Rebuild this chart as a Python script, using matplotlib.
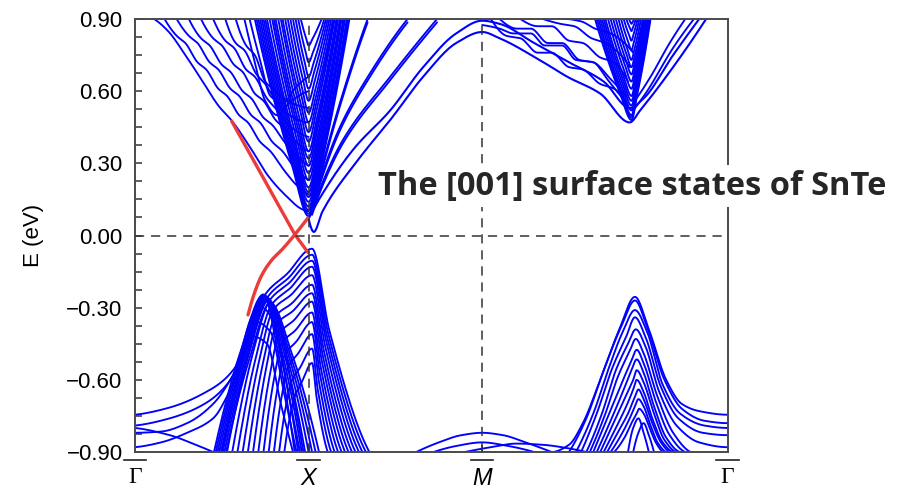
import numpy as np
import matplotlib
matplotlib.use("Agg")
import matplotlib.pyplot as plt
import matplotlib.transforms as mtransforms
from matplotlib.ticker import MultipleLocator, FixedLocator

# ---------------------------------------------------------------------------
# k-path: Gamma -> X -> M -> Gamma  (|GX| = |XM| = 1, |MG| = sqrt 2)
# ---------------------------------------------------------------------------
K_TICKS = [0.0, 1.0, 2.0, 2.0 + np.sqrt(2.0)]
K_LABELS = ["Γ", "X", "M", "Γ"]
E_MIN, E_MAX = -0.90, 0.90
E_TICKS = [0.90, 0.60, 0.30, 0.00, -0.30, -0.60, -0.90]

# --- surface states (red) ---------------------------------------------------
SS_A_K = [0.557, 0.921, 0.996]
SS_A_E = [0.475, 0.004, -0.070]
SS_B_K = [0.651, 0.69, 0.73, 0.79, 0.845, 0.921, 0.996]
SS_B_E = [-0.33, -0.235, -0.165, -0.10, -0.06, 0.004, 0.073]

# --- conduction bands along Gamma-X -----------------------------------------
GX_CB_K = [
    [0.11, 0.19, 0.29, 0.39, 0.48, 0.56, 0.66, 0.77, 0.87, 0.96, 1.0],
    [0.17, 0.24, 0.29, 0.36, 0.41, 0.48, 0.53, 0.60, 0.65, 0.72, 0.78, 0.86, 0.93, 1.0],
    [0.24, 0.31, 0.36, 0.43, 0.48, 0.55, 0.60, 0.67, 0.72, 0.79, 0.85, 0.92, 1.0],
    [0.31, 0.38, 0.43, 0.50, 0.55, 0.62, 0.67, 0.74, 0.79, 0.86, 0.93, 1.0],
    [0.38, 0.45, 0.50, 0.57, 0.62, 0.69, 0.74, 0.81, 0.87, 0.94, 1.0],
    [0.45, 0.52, 0.57, 0.64, 0.69, 0.76, 0.82, 0.90, 1.0],
    [0.52, 0.58, 0.63, 0.70, 0.75, 0.82, 0.89, 1.0],
    [0.58, 0.64, 0.69, 0.75, 0.81, 0.88, 0.94, 1.0],
    [0.63, 0.69, 0.75, 0.82, 0.90, 1.0],
    [0.66, 0.72, 0.78, 0.85, 0.93, 1.0],
]
GX_CB_E = [
    [0.90, 0.85, 0.75, 0.64, 0.54, 0.475, 0.37, 0.245, 0.165, 0.11, 0.10],
    [0.90, 0.83, 0.80, 0.72, 0.69, 0.61, 0.58, 0.50, 0.47, 0.39, 0.35, 0.27, 0.21, 0.17],
    [0.90, 0.83, 0.80, 0.72, 0.69, 0.61, 0.58, 0.50, 0.47, 0.39, 0.35, 0.28, 0.23],
    [0.90, 0.82, 0.79, 0.71, 0.68, 0.60, 0.57, 0.49, 0.46, 0.39, 0.33, 0.29],
    [0.90, 0.82, 0.79, 0.71, 0.68, 0.59, 0.56, 0.48, 0.44, 0.38, 0.35],
    [0.90, 0.81, 0.78, 0.69, 0.66, 0.57, 0.52, 0.45, 0.41],
    [0.90, 0.80, 0.77, 0.67, 0.63, 0.55, 0.50, 0.47],
    [0.90, 0.79, 0.75, 0.64, 0.60, 0.56, 0.54, 0.53],
    [0.90, 0.72, 0.56, 0.50, 0.56, 0.60],
    [0.90, 0.73, 0.58, 0.55, 0.62, 0.66],
]

# --- projected bulk conduction valley at X: (left top k, minimum E, right top k)
XV_KL = [0.69, 0.70, 0.71, 0.72, 0.73, 0.74, 0.75, 0.76, 0.775, 0.79, 0.80,
         0.81, 0.825, 0.84, 0.85, 0.865, 0.88, 0.895, 0.91, 0.925, 0.94, 0.955]
XV_EMIN = [0.08, 0.09, 0.105, 0.12, 0.14, 0.16, 0.18, 0.20, 0.23, 0.26, 0.29,
           0.32, 0.35, 0.39, 0.43, 0.47, 0.51, 0.56, 0.61, 0.66, 0.72, 0.79]
XV_KR = [1.235, 1.23, 1.225, 1.22, 1.21, 1.205, 1.20, 1.19, 1.185, 1.18, 1.17,
         1.165, 1.16, 1.15, 1.145, 1.14, 1.13, 1.12, 1.11, 1.10, 1.09, 1.075]
XV_KMIN = 1.0

# --- conduction bands along X-M (leaving the top) ----------------------------
XM_CB_K = [
    [1.04, 1.09, 1.18, 1.34],
    [1.03, 1.08, 1.18, 1.35, 1.57],
    [1.02, 1.08, 1.20, 1.47, 1.74],
]
XM_CB_E = [
    [0.18, 0.32, 0.55, 0.90],
    [0.14, 0.26, 0.45, 0.67, 0.90],
    [0.10, 0.22, 0.40, 0.66, 0.90],
]

# --- bands running X -> M -> Gamma over the M maximum ------------------------
XMG_CB_K = [
    [1.0, 1.06, 1.26, 1.47, 1.66, 1.85, 2.0, 2.1, 2.3, 2.5, 2.7, 2.85, 2.93, 3.1, 3.25],
    [1.0, 1.03, 1.08, 1.28, 1.47, 1.66, 1.85, 2.0, 2.1, 2.33, 2.49, 2.68, 2.85, 2.91, 3.1, 3.29],
]
XMG_CB_E = [
    [0.07, 0.15, 0.36, 0.52, 0.70, 0.84, 0.893, 0.88, 0.80, 0.72, 0.64, 0.53, 0.57, 0.75, 0.90],
    [0.07, 0.015, 0.10, 0.31, 0.48, 0.66, 0.80, 0.846, 0.82, 0.73, 0.66, 0.59, 0.47, 0.52, 0.70, 0.90],
]

# --- conduction bands along M-Gamma ------------------------------------------
MG_CB_K = [
    [2.0, 2.10, 2.18, 2.28, 2.36, 2.46, 2.54, 2.64, 2.72, 2.82],
    [2.10, 2.20, 2.28, 2.38, 2.46, 2.56, 2.64, 2.74, 2.83],
    [2.22, 2.32, 2.40, 2.50, 2.58, 2.68, 2.76, 2.84],
    [2.35, 2.45, 2.53, 2.63, 2.71, 2.80, 2.85],
    [2.48, 2.57, 2.65, 2.74, 2.82, 2.87],
    [2.05, 2.14, 2.22, 2.32, 2.40, 2.50, 2.58, 2.68, 2.76, 2.84],
    [2.87, 2.95, 3.10, 3.22],
    [2.88, 2.97, 3.08, 3.17],
]
MG_CB_E = [
    [0.875, 0.86, 0.84, 0.84, 0.79, 0.79, 0.73, 0.72, 0.65, 0.56],
    [0.90, 0.86, 0.86, 0.80, 0.80, 0.73, 0.72, 0.65, 0.58],
    [0.90, 0.87, 0.87, 0.81, 0.80, 0.74, 0.72, 0.64],
    [0.90, 0.88, 0.87, 0.82, 0.80, 0.75, 0.70],
    [0.90, 0.89, 0.86, 0.84, 0.80, 0.76],
    [0.90, 0.83, 0.82, 0.76, 0.76, 0.70, 0.69, 0.63, 0.61, 0.54],
    [0.52, 0.60, 0.78, 0.90],
    [0.56, 0.66, 0.80, 0.90],
]

# --- projected bulk conduction valley on M-Gamma -----------------------------
MV_KL = [2.65, 2.66, 2.67, 2.68, 2.69, 2.70, 2.71, 2.725, 2.74, 2.755, 2.77,
         2.785, 2.80, 2.815, 2.83, 2.845]
MV_EMIN = [0.48, 0.49, 0.50, 0.52, 0.54, 0.56, 0.58, 0.61, 0.64, 0.67, 0.70,
           0.73, 0.77, 0.81, 0.85, 0.88]
MV_KR = [2.97, 2.967, 2.963, 2.96, 2.955, 2.95, 2.945, 2.94, 2.935, 2.93, 2.925,
         2.915, 2.905, 2.895, 2.885, 2.875]
MV_KMIN = 2.86

# --- valence bands near Gamma (Gamma-X) --------------------------------------
GX_VB_K = [
    [0.0, 0.19, 0.385, 0.575, 0.67, 0.745, 0.82, 0.90, 0.97],
    [0.0, 0.20, 0.40, 0.55, 0.64, 0.73, 0.80, 0.88, 0.95],
    [0.0, 0.15, 0.30, 0.45, 0.58, 0.70, 0.78, 0.86, 0.93],
    [0.0, 0.15, 0.30, 0.45, 0.55, 0.68, 0.76, 0.84, 0.91],
    [0.0, 0.20, 0.35, 0.45],
]
GX_VB_E = [
    [-0.745, -0.717, -0.66, -0.55, -0.34, -0.25, -0.33, -0.62, -0.90],
    [-0.79, -0.76, -0.70, -0.60, -0.45, -0.30, -0.36, -0.64, -0.90],
    [-0.82, -0.815, -0.78, -0.70, -0.56, -0.36, -0.40, -0.66, -0.90],
    [-0.88, -0.86, -0.82, -0.76, -0.64, -0.42, -0.45, -0.70, -0.90],
    [-0.80, -0.83, -0.87, -0.90],
]

# --- valence subbands around X: foot k, shoulder (k, E), E at X, right foot k
FAN_KF = [0.50, 0.53, 0.56, 0.59, 0.62, 0.65, 0.68, 0.71, 0.74, 0.77, 0.80, 0.83, 0.86]
FAN_KT = [0.75, 0.765, 0.775, 0.785, 0.795, 0.805, 0.815, 0.83, 0.845, 0.86, 0.88, 0.90, 0.92]
FAN_ET = [-0.245, -0.255, -0.27, -0.29, -0.31, -0.34, -0.37, -0.41, -0.45, -0.50, -0.55, -0.61, -0.67]
FAN_EX = [-0.055, -0.08, -0.105, -0.13, -0.165, -0.205, -0.24, -0.275, -0.32, -0.36, -0.41, -0.47, -0.53]
FAN_KR = [1.35, 1.33, 1.31, 1.29, 1.27, 1.25, 1.23, 1.21, 1.19, 1.17, 1.15, 1.13, 1.11]

# --- valence humps peaking near k = 0.75 -------------------------------------
HUMP_KF = [0.455, 0.465, 0.475, 0.485, 0.495, 0.505, 0.515, 0.525]
HUMP_KP = [0.74, 0.745, 0.75, 0.755, 0.76, 0.765, 0.77, 0.78]
HUMP_EP = [-0.245, -0.25, -0.252, -0.255, -0.26, -0.265, -0.27, -0.28]
HUMP_KE = [0.92, 0.94, 0.96, 0.98, 1.00, 1.02, 1.04, 1.06]

# --- valence arcs around M ---------------------------------------------------
ARC_K = [
    [1.62, 1.75, 1.88, 2.0, 2.12, 2.25, 2.40],
    [1.72, 1.85, 2.0, 2.15, 2.30],
    [1.90, 2.05, 2.20, 2.35, 2.50, 2.60],
]
ARC_E = [
    [-0.90, -0.86, -0.83, -0.82, -0.83, -0.86, -0.90],
    [-0.90, -0.875, -0.86, -0.875, -0.90],
    [-0.90, -0.88, -0.865, -0.87, -0.885, -0.90],
]

# --- valence humps on M-Gamma ------------------------------------------------
MG_VB_K = [
    [2.40, 2.50, 2.58, 2.68, 2.79, 2.88, 2.96, 3.06, 3.15, 3.25, 3.414],
    [2.50, 2.60, 2.70, 2.80, 2.88, 2.95, 3.05, 3.15, 3.28, 3.414],
    [2.54, 2.64, 2.73, 2.81, 2.88, 2.95, 3.04, 3.14, 3.28, 3.414],
    [2.57, 2.66, 2.75, 2.83, 2.88, 2.94, 3.03, 3.13, 3.27, 3.414],
    [2.60, 2.69, 2.77, 2.84, 2.885, 2.94, 3.02, 3.12, 3.25, 3.414],
    [2.62, 2.71, 2.78, 2.85, 2.885, 2.93, 3.01, 3.10, 3.20],
    [2.64, 2.72, 2.80, 2.86, 2.89, 2.93, 3.00, 3.08, 3.17],
    [2.66, 2.74, 2.81, 2.86, 2.89, 2.93, 2.99, 3.06, 3.14],
    [2.68, 2.75, 2.82, 2.87, 2.89, 2.93, 2.99, 3.05, 3.12],
    [2.70, 2.77, 2.83, 2.87, 2.89, 2.93, 2.98, 3.04, 3.10],
    [2.72, 2.78, 2.84, 2.88, 2.90, 2.93, 2.98, 3.03, 3.08],
    [2.74, 2.80, 2.85, 2.88, 2.90, 2.93, 2.97, 3.01, 3.06],
    [2.76, 2.82, 2.86, 2.89, 2.905, 2.93, 2.97, 3.00, 3.04],
    [2.84, 2.87, 2.90, 2.93, 2.96],
    [2.87, 2.90, 2.93, 2.96, 2.99],
]
MG_VB_E = [
    [-0.90, -0.87, -0.78, -0.60, -0.39, -0.255, -0.39, -0.60, -0.70, -0.73, -0.745],
    [-0.90, -0.76, -0.56, -0.38, -0.27, -0.38, -0.60, -0.72, -0.77, -0.78],
    [-0.90, -0.74, -0.55, -0.40, -0.31, -0.40, -0.62, -0.74, -0.79, -0.80],
    [-0.90, -0.74, -0.55, -0.42, -0.34, -0.42, -0.63, -0.76, -0.82, -0.83],
    [-0.90, -0.74, -0.56, -0.45, -0.39, -0.46, -0.65, -0.79, -0.86, -0.88],
    [-0.90, -0.74, -0.59, -0.48, -0.43, -0.49, -0.67, -0.82, -0.90],
    [-0.90, -0.76, -0.62, -0.52, -0.475, -0.53, -0.69, -0.83, -0.90],
    [-0.90, -0.77, -0.65, -0.56, -0.515, -0.57, -0.71, -0.84, -0.90],
    [-0.90, -0.79, -0.68, -0.60, -0.56, -0.61, -0.74, -0.85, -0.90],
    [-0.90, -0.80, -0.71, -0.64, -0.60, -0.65, -0.76, -0.86, -0.90],
    [-0.90, -0.82, -0.74, -0.67, -0.64, -0.68, -0.78, -0.86, -0.90],
    [-0.90, -0.83, -0.76, -0.71, -0.68, -0.71, -0.79, -0.86, -0.90],
    [-0.90, -0.84, -0.78, -0.74, -0.72, -0.74, -0.81, -0.86, -0.90],
    [-0.90, -0.80, -0.76, -0.82, -0.90],
    [-0.90, -0.82, -0.78, -0.83, -0.90],
]

TITLE = "The [001] surface states of SnTe"
BLUE = "#0000ff"
RED = "#ec3b3b"


# ---------------------------------------------------------------------------
# helpers
# ---------------------------------------------------------------------------
def _end_slope(h0, h1, d0, d1):
    s = ((2 * h0 + h1) * d0 - h0 * d1) / (h0 + h1)
    if np.sign(s) != np.sign(d0):
        return 0.0
    if np.sign(d0) != np.sign(d1) and abs(s) > abs(3 * d0):
        return 3 * d0
    return s


def smooth_curve(xk, yk, per_seg=30):
    """Shape-preserving cubic through the knots (monotone Hermite)."""
    xk = np.asarray(xk, float)
    yk = np.asarray(yk, float)
    n = len(xk)
    h = np.diff(xk)
    dl = np.diff(yk) / h
    d = np.zeros(n)
    if n == 2:
        d[:] = dl[0]
    else:
        for i in range(1, n - 1):
            if dl[i - 1] * dl[i] > 0:
                w1 = 2 * h[i] + h[i - 1]
                w2 = h[i] + 2 * h[i - 1]
                d[i] = (w1 + w2) / (w1 / dl[i - 1] + w2 / dl[i])
        d[0] = _end_slope(h[0], h[1], dl[0], dl[1])
        d[-1] = _end_slope(h[-1], h[-2], dl[-1], dl[-2])
    xs, ys = [], []
    for i in range(n - 1):
        t = np.linspace(0, 1, per_seg, endpoint=(i == n - 2))
        h00 = 2 * t**3 - 3 * t**2 + 1
        h10 = t**3 - 2 * t**2 + t
        h01 = -2 * t**3 + 3 * t**2
        h11 = t**3 - t**2
        xs.append(xk[i] + t * h[i])
        ys.append(h00 * yk[i] + h10 * h[i] * d[i] + h01 * yk[i + 1] + h11 * h[i] * d[i + 1])
    return np.concatenate(xs), np.concatenate(ys)


def valley(kl, emin, kr, kmin):
    rise = 0.25 * (E_MAX - emin)
    ks = [kl, kmin - 0.3 * (kmin - kl), kmin, kmin + 0.3 * (kr - kmin), kr]
    es = [E_MAX, emin + rise, emin, emin + rise, E_MAX]
    return ks, es


def x_subband(kf, kt, et, ex, kr):
    ks = [kf, kf + 0.55 * (kt - kf), kt, 0.5 * (kt + 1.0), 1.02, 1.02 + 0.3 * (kr - 1.02), kr]
    es = [E_MIN, et + 0.35 * (E_MIN - et), et, 0.5 * (et + ex) - 0.01, ex, ex + 0.4 * (E_MIN - ex), E_MIN]
    return ks, es


def hump(kf, kp, ep, ke):
    ks = [kf, kf + 0.55 * (kp - kf), kp, kp + 0.45 * (ke - kp), ke]
    es = [E_MIN, ep + 0.35 * (E_MIN - ep), ep, ep + 0.35 * (E_MIN - ep), E_MIN]
    return ks, es


# ---------------------------------------------------------------------------
# figure
# ---------------------------------------------------------------------------
plt.rcParams["font.family"] = ["Liberation Sans", "DejaVu Sans"]
fig = plt.figure(figsize=(9.13, 4.91), dpi=100)
ax = fig.add_axes([0.1479, 0.0794, 0.797 - 0.1479, 0.9613 - 0.0794])

band_style = dict(color=BLUE, lw=1.35, solid_capstyle="round", zorder=2)


def draw(ks, es, **kw):
    x, y = smooth_curve(ks, es)
    style = dict(band_style)
    style.update(kw)
    ax.plot(x, y, **style)


for ks, es in zip(GX_CB_K, GX_CB_E):
    draw(ks, es)
for kl, em, kr in zip(XV_KL, XV_EMIN, XV_KR):
    draw(*valley(kl, em, kr, XV_KMIN))
for ks, es in zip(XM_CB_K, XM_CB_E):
    draw(ks, es)
    draw(ks, np.asarray(es) - 0.014)
for ks, es in zip(XMG_CB_K, XMG_CB_E):
    draw(ks, es, lw=1.5)
for ks, es in zip(MG_CB_K, MG_CB_E):
    draw(ks, es)
for kl, em, kr in zip(MV_KL, MV_EMIN, MV_KR):
    draw(*valley(kl, em, kr, MV_KMIN))

for ks, es in zip(GX_VB_K, GX_VB_E):
    draw(ks, es)
for kf, kt, et, ex, kr in zip(FAN_KF, FAN_KT, FAN_ET, FAN_EX, FAN_KR):
    draw(*x_subband(kf, kt, et, ex, kr))
for kf, kp, ep, ke in zip(HUMP_KF, HUMP_KP, HUMP_EP, HUMP_KE):
    draw(*hump(kf, kp, ep, ke))
for ks, es in zip(ARC_K, ARC_E):
    draw(ks, es)
for ks, es in zip(MG_VB_K, MG_VB_E):
    draw(ks, es)

# surface states
ax.plot(SS_A_K, SS_A_E, color=RED, lw=2.4, solid_capstyle="round", zorder=4)
xb, yb = smooth_curve(SS_B_K, SS_B_E)
ax.plot(xb, yb, color=RED, lw=2.4, solid_capstyle="round", zorder=4)

# guide lines
dash = dict(color="#333333", lw=1.1, dashes=(6, 4.5), zorder=5)
ax.axhline(0.0, **dash)
ax.axvline(K_TICKS[1], **dash)
ax.axvline(K_TICKS[2], **dash)

ax.set_xlim(K_TICKS[0], K_TICKS[-1])
ax.set_ylim(E_MIN, E_MAX)

# axes frame and ticks
for sp in ax.spines.values():
    sp.set_color("#4a4a4a")
    sp.set_linewidth(1.4)
ax.yaxis.set_major_locator(FixedLocator(E_TICKS))
ax.yaxis.set_minor_locator(MultipleLocator(0.075))
ax.set_yticklabels([f"{v:.2f}".replace("-", "\u2212") for v in E_TICKS])
ax.tick_params(axis="y", which="both", direction="in", length=5, width=1.1,
               color="#333333", labelsize=16, pad=9, right=False)
ax.set_xticks(K_TICKS[1:3])
ax.set_xticklabels([])
ax.tick_params(axis="x", which="both", direction="in", length=5, width=1.1,
               color="#333333", top=False)
ax.set_ylabel("E (eV)", fontsize=16, labelpad=16)

# high-symmetry point labels with overbars
trans = mtransforms.blended_transform_factory(ax.transData, ax.transAxes)
for k, lab in zip(K_TICKS, K_LABELS):
    if lab == "Γ":
        ax.text(k, -0.035, lab, transform=trans, ha="center", va="top",
                fontsize=17, family="Liberation Serif")
    else:
        ax.text(k, -0.035, lab, transform=trans, ha="center", va="top",
                fontsize=17, style="italic")
    ax.plot([k - 0.065, k + 0.065], [-0.018, -0.018], transform=trans,
            color="#222222", lw=1.2, clip_on=False)

# caption on the plot
fig.text(0.692, 0.621, TITLE, ha="center", va="center", fontsize=23.5,
         fontweight="bold", family=["Open Sans", "DejaVu Sans"], color="#262626",
         bbox=dict(facecolor="white", edgecolor="none", pad=3))

fig.savefig("out.png", dpi=100)
